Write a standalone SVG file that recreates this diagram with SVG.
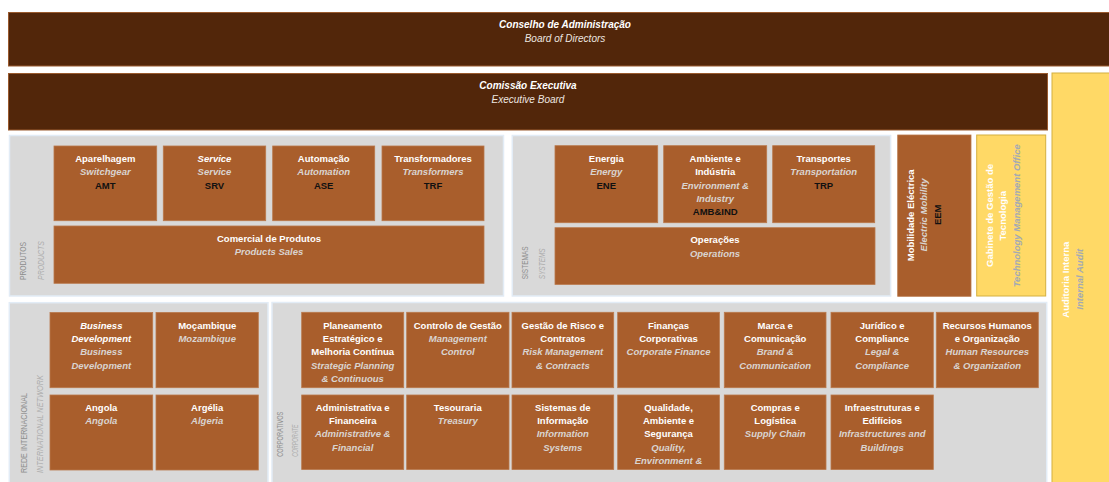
<svg xmlns="http://www.w3.org/2000/svg" width="1109" height="482" viewBox="0 0 1109 482">
  <style>
    .exec { fill: #52260A; stroke: #9A5A2E; stroke-width: 1; }
    .panel { fill: #D9D9D9; stroke: #E2ECF6; stroke-width: 1.5; }
    .box { fill: #A95E2C; stroke: #B9784B; stroke-width: 0.8; }
    .gold { fill: #FFD966; stroke: #D4B040; stroke-width: 1; }
    text { font-family: "Liberation Sans", Arial, sans-serif; font-size: 9.5px; text-anchor: middle; }
    .pt { font-weight: bold; fill: #FFFFFF; }
    .pti { font-weight: bold; font-style: italic; fill: #FFFFFF; }
    .en { font-weight: bold; font-style: italic; fill: #D9D4D0; }
    .cd { font-weight: bold; fill: #111111; }
    .hd { font-weight: bold; font-style: italic; fill: #FFFFFF; font-size: 10px; }
    .hde { font-style: italic; fill: #EDE6E0; font-size: 10px; }
    .vl { font-size: 9px; fill: #8E8E8E; text-anchor: start; }
    .vle { font-size: 9px; font-style: italic; fill: #ADADAD; text-anchor: start; }
    .yw { font-weight: bold; fill: #FFFFFF; }
    .yi { font-weight: bold; font-style: italic; fill: #A3A9B5; }
  </style>

  <rect width="1109" height="482" fill="#FFFFFF"/>

  <!-- governing bodies -->
  <g id="board">
    <rect class="exec" x="8.5" y="12.5" width="1114" height="53.5"/>
    <text class="hd" x="565" y="27.5">Conselho de Administração</text>
    <text class="hde" x="565" y="41.5">Board of Directors</text>
  </g>
  <g id="executive-board">
    <rect class="exec" x="8.5" y="73.5" width="1039" height="56.5"/>
    <text class="hd" x="528" y="88.5">Comissão Executiva</text>
    <text class="hde" x="528" y="102.5">Executive Board</text>
  </g>
  <g id="internal-audit">
    <rect class="gold" x="1052" y="73" width="70" height="420"/>
    <g transform="translate(1068.5,279.7) rotate(-90)"><text class="yw" x="0" y="0">Auditoria Interna</text></g>
    <g transform="translate(1082.8,279.2) rotate(-90)"><text class="yi" x="0" y="0">Internal Audit</text></g>
  </g>

  <!-- area panels -->
  <g id="panel-products">
    <rect class="panel" x="9.5" y="135.5" width="494" height="160.5"/>
    <g transform="translate(26.2,280) rotate(-90)"><text class="vl" x="0" y="0" textLength="38" lengthAdjust="spacingAndGlyphs">PRODUTOS</text></g>
    <g transform="translate(44.2,280) rotate(-90)"><text class="vle" x="0" y="0" textLength="39" lengthAdjust="spacingAndGlyphs">PRODUCTS</text></g>
  </g>
  <g id="panel-systems">
    <rect class="panel" x="512.3" y="135.5" width="378.3" height="160.5"/>
    <g transform="translate(527.8,279.3) rotate(-90)"><text class="vl" x="0" y="0" textLength="33" lengthAdjust="spacingAndGlyphs">SISTEMAS</text></g>
    <g transform="translate(545.2,279.3) rotate(-90)"><text class="vle" x="0" y="0" textLength="31" lengthAdjust="spacingAndGlyphs">SYSTEMS</text></g>
  </g>
  <g id="panel-international">
    <rect class="panel" x="9.3" y="302.7" width="258.7" height="190"/>
    <g transform="translate(26.8,473) rotate(-90)"><text class="vl" x="0" y="0" textLength="80" lengthAdjust="spacingAndGlyphs">REDE INTERNACIONAL</text></g>
    <g transform="translate(42.8,473) rotate(-90)"><text class="vle" x="0" y="0" textLength="98" lengthAdjust="spacingAndGlyphs">INTERNATIONAL NETWORK</text></g>
  </g>
  <g id="panel-corporate">
    <rect class="panel" x="272" y="302.5" width="774.7" height="190"/>
    <g transform="translate(282.8,456.7) rotate(-90)"><text class="vl" x="0" y="0" textLength="45" lengthAdjust="spacingAndGlyphs">CORPORATIVOS</text></g>
    <g transform="translate(297.5,456.7) rotate(-90)"><text class="vle" x="0" y="0" textLength="32" lengthAdjust="spacingAndGlyphs">CORPORATE</text></g>
  </g>

  <!-- products -->
  <g id="amt">
    <rect class="box" x="54" y="146" width="102.7" height="74.7"/>
    <text class="pt" x="105.3" y="161.8">Aparelhagem</text>
    <text class="en" x="105.3" y="175.2">Switchgear</text>
    <text class="cd" x="105.3" y="188.6">AMT</text>
  </g>
  <g id="srv">
    <rect class="box" x="163.3" y="146" width="102.4" height="74.7"/>
    <text class="pti" x="214.5" y="161.8">Service</text>
    <text class="en" x="214.5" y="175.2">Service</text>
    <text class="cd" x="214.5" y="188.6">SRV</text>
  </g>
  <g id="ase">
    <rect class="box" x="272.7" y="146" width="102" height="74.7"/>
    <text class="pt" x="323.7" y="161.8">Automação</text>
    <text class="en" x="323.7" y="175.2">Automation</text>
    <text class="cd" x="323.7" y="188.6">ASE</text>
  </g>
  <g id="trf">
    <rect class="box" x="382" y="146" width="102" height="74.7"/>
    <text class="pt" x="433" y="161.8">Transformadores</text>
    <text class="en" x="433" y="175.2">Transformers</text>
    <text class="cd" x="433" y="188.6">TRF</text>
  </g>
  <g id="products-sales">
    <rect class="box" x="54" y="226" width="430" height="57.3"/>
    <text class="pt" x="269" y="241.8">Comercial de Produtos</text>
    <text class="en" x="269" y="255.2">Products Sales</text>
  </g>

  <!-- systems -->
  <g id="ene">
    <rect class="box" x="555" y="145.7" width="102.7" height="77"/>
    <text class="pt" x="606.3" y="161.8">Energia</text>
    <text class="en" x="606.3" y="175.2">Energy</text>
    <text class="cd" x="606.3" y="188.6">ENE</text>
  </g>
  <g id="amb-ind">
    <rect class="box" x="663.7" y="145.7" width="103" height="77"/>
    <text class="pt" x="715.2" y="161.8">Ambiente e</text>
    <text class="pt" x="715.2" y="175.2">Indústria</text>
    <text class="en" x="715.2" y="188.6">Environment &amp;</text>
    <text class="en" x="715.2" y="202">Industry</text>
    <text class="cd" x="715.2" y="215.4">AMB&amp;IND</text>
  </g>
  <g id="trp">
    <rect class="box" x="772.7" y="145.7" width="102" height="77"/>
    <text class="pt" x="823.7" y="161.8">Transportes</text>
    <text class="en" x="823.7" y="175.2">Transportation</text>
    <text class="cd" x="823.7" y="188.6">TRP</text>
  </g>
  <g id="operations">
    <rect class="box" x="555" y="227.7" width="320" height="56.7"/>
    <text class="pt" x="715" y="242.5">Operações</text>
    <text class="en" x="715" y="256.8">Operations</text>
  </g>

  <!-- electric mobility -->
  <g id="eem">
    <rect class="box" x="897.7" y="135" width="73.3" height="161.3"/>
    <g transform="translate(914.2,215.3) rotate(-90)"><text class="pt" x="0" y="0">Mobilidade Eléctrica</text></g>
    <g transform="translate(926.8,215) rotate(-90)"><text class="en" x="0" y="0">Electric Mobility</text></g>
    <g transform="translate(940.8,214.8) rotate(-90)"><text class="cd" x="0" y="0">EEM</text></g>
  </g>

  <!-- technology management office -->
  <g id="tmo">
    <rect class="gold" x="976.7" y="135" width="69" height="161"/>
    <g transform="translate(992.5,215.5) rotate(-90)"><text class="yw" x="0" y="0">Gabinete de Gestão de</text></g>
    <g transform="translate(1006.2,215.8) rotate(-90)"><text class="yw" x="0" y="0">Tecnologia</text></g>
    <g transform="translate(1019.5,215.8) rotate(-90)"><text class="yi" x="0" y="0">Technology Management Office</text></g>
  </g>

  <!-- international network -->
  <g id="business-development">
    <rect class="box" x="50" y="312.5" width="102.7" height="75.2"/>
    <text class="pti" x="101.3" y="328.5">Business</text>
    <text class="pti" x="101.3" y="341.9">Development</text>
    <text class="en" x="101.3" y="355.3">Business</text>
    <text class="en" x="101.3" y="368.7">Development</text>
  </g>
  <g id="mozambique">
    <rect class="box" x="156" y="312.5" width="102.3" height="75.2"/>
    <text class="pt" x="207.2" y="328.5">Moçambique</text>
    <text class="en" x="207.2" y="341.9">Mozambique</text>
  </g>
  <g id="angola">
    <rect class="box" x="50" y="395" width="102.7" height="75"/>
    <text class="pt" x="101.3" y="410.5">Angola</text>
    <text class="en" x="101.3" y="423.9">Angola</text>
  </g>
  <g id="algeria">
    <rect class="box" x="156" y="395" width="102.3" height="75"/>
    <text class="pt" x="207.2" y="410.5">Argélia</text>
    <text class="en" x="207.2" y="423.9">Algeria</text>
  </g>

  <!-- corporate, first row -->
  <g id="strategic-planning">
    <rect class="box" x="301.7" y="312.3" width="102" height="75.4"/>
    <text class="pt" x="352.7" y="328.5">Planeamento</text>
    <text class="pt" x="352.7" y="341.9">Estratégico e</text>
    <text class="pt" x="352.7" y="355.3">Melhoria Contínua</text>
    <text class="en" x="352.7" y="368.7">Strategic Planning</text>
    <text class="en" x="352.7" y="382.1">&amp; Continuous</text>
  </g>
  <g id="management-control">
    <rect class="box" x="406.7" y="312.3" width="102.3" height="75.4"/>
    <text class="pt" x="457.8" y="328.5">Controlo de Gestão</text>
    <text class="en" x="457.8" y="341.9">Management</text>
    <text class="en" x="457.8" y="355.3">Control</text>
  </g>
  <g id="risk-management">
    <rect class="box" x="512" y="312.3" width="101.7" height="75.4"/>
    <text class="pt" x="562.8" y="328.5">Gestão de Risco e</text>
    <text class="pt" x="562.8" y="341.9">Contratos</text>
    <text class="en" x="562.8" y="355.3">Risk Management</text>
    <text class="en" x="562.8" y="368.7">&amp; Contracts</text>
  </g>
  <g id="corporate-finance">
    <rect class="box" x="617.7" y="312.3" width="101.7" height="75.4"/>
    <text class="pt" x="668.5" y="328.5">Finanças</text>
    <text class="pt" x="668.5" y="341.9">Corporativas</text>
    <text class="en" x="668.5" y="355.3">Corporate Finance</text>
  </g>
  <g id="brand-communication">
    <rect class="box" x="724.3" y="312.3" width="101.7" height="75.4"/>
    <text class="pt" x="775.2" y="328.5">Marca e</text>
    <text class="pt" x="775.2" y="341.9">Comunicação</text>
    <text class="en" x="775.2" y="355.3">Brand &amp;</text>
    <text class="en" x="775.2" y="368.7">Communication</text>
  </g>
  <g id="legal-compliance">
    <rect class="box" x="831" y="312.3" width="102.3" height="75.4"/>
    <text class="pt" x="882.2" y="328.5">Jurídico e</text>
    <text class="pt" x="882.2" y="341.9">Compliance</text>
    <text class="en" x="882.2" y="355.3">Legal &amp;</text>
    <text class="en" x="882.2" y="368.7">Compliance</text>
  </g>
  <g id="human-resources">
    <rect class="box" x="936.3" y="312.3" width="102" height="75.4"/>
    <text class="pt" x="987.3" y="328.5">Recursos Humanos</text>
    <text class="pt" x="987.3" y="341.9">e Organização</text>
    <text class="en" x="987.3" y="355.3">Human Resources</text>
    <text class="en" x="987.3" y="368.7">&amp; Organization</text>
  </g>

  <!-- corporate, second row -->
  <g id="administrative-financial">
    <rect class="box" x="301.7" y="395" width="102" height="74.5"/>
    <text class="pt" x="352.7" y="410.5">Administrativa e</text>
    <text class="pt" x="352.7" y="423.9">Financeira</text>
    <text class="en" x="352.7" y="437.3">Administrative &amp;</text>
    <text class="en" x="352.7" y="450.7">Financial</text>
  </g>
  <g id="treasury">
    <rect class="box" x="406.7" y="395" width="102.3" height="74.5"/>
    <text class="pt" x="457.8" y="410.5">Tesouraria</text>
    <text class="en" x="457.8" y="423.9">Treasury</text>
  </g>
  <g id="information-systems">
    <rect class="box" x="512" y="395" width="101.7" height="74.5"/>
    <text class="pt" x="562.8" y="410.5">Sistemas de</text>
    <text class="pt" x="562.8" y="423.9">Informação</text>
    <text class="en" x="562.8" y="437.3">Information</text>
    <text class="en" x="562.8" y="450.7">Systems</text>
  </g>
  <g id="quality-environment-safety">
    <rect class="box" x="617.7" y="395" width="101.7" height="74.5"/>
    <text class="pt" x="668.5" y="410.5">Qualidade,</text>
    <text class="pt" x="668.5" y="423.9">Ambiente e</text>
    <text class="pt" x="668.5" y="437.3">Segurança</text>
    <text class="en" x="668.5" y="450.7">Quality,</text>
    <text class="en" x="668.5" y="464.1">Environment &amp;</text>
  </g>
  <g id="supply-chain">
    <rect class="box" x="724.3" y="395" width="101.7" height="74.5"/>
    <text class="pt" x="775.2" y="410.5">Compras e</text>
    <text class="pt" x="775.2" y="423.9">Logística</text>
    <text class="en" x="775.2" y="437.3">Supply Chain</text>
  </g>
  <g id="infrastructures-buildings">
    <rect class="box" x="831" y="395" width="102.3" height="74.5"/>
    <text class="pt" x="882.2" y="410.5">Infraestruturas e</text>
    <text class="pt" x="882.2" y="423.9">Edifícios</text>
    <text class="en" x="882.2" y="437.3">Infrastructures and</text>
    <text class="en" x="882.2" y="450.7">Buildings</text>
  </g>

  <!-- organisational chart: containment only, no connectors -->
  <g id="connectors"/>
</svg>
